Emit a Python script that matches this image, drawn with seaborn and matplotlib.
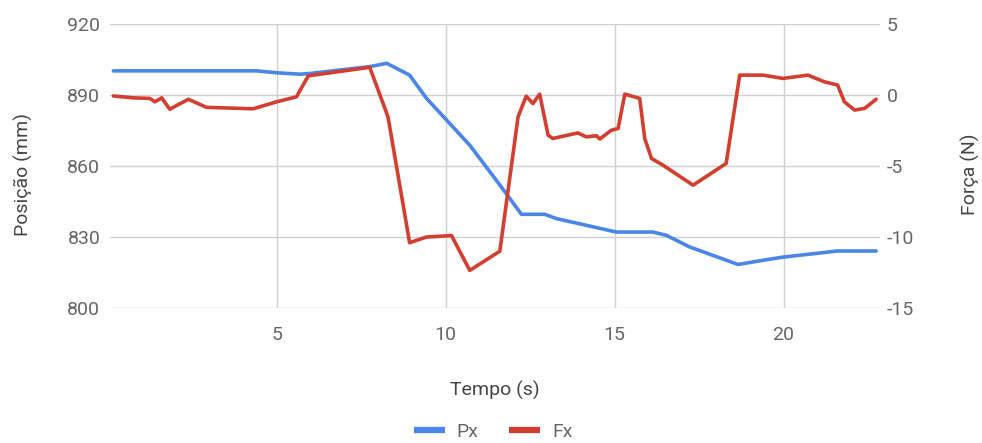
import matplotlib
matplotlib.use("Agg")
import matplotlib.pyplot as plt
import seaborn as sns
import pandas as pd
from matplotlib.lines import Line2D

# Position Px (mm) over time
t_pos = [0.16, 4.40, 4.99, 5.68, 5.98, 7.75, 8.25, 8.93, 9.43, 10.71, 11.60,
         12.24, 12.93, 13.27, 15.05, 16.13, 16.53, 17.22, 18.65, 19.49, 19.98,
         21.60, 22.74]
px = [900.2, 900.2, 899.4, 898.8, 899.1, 902.0, 903.4, 898.4, 888.6, 868.8,
      852.0, 839.6, 839.6, 837.8, 832.1, 832.1, 830.7, 825.8, 818.4, 820.4,
      821.5, 824.1, 824.1]

# Force Fx (N) over time
t_force = [0.16, 0.75, 1.24, 1.39, 1.59, 1.83, 2.38, 2.92, 4.30, 4.99, 5.58,
           5.93, 7.75, 8.29, 8.93, 9.43, 10.17, 10.71, 11.60, 12.14, 12.38,
           12.58, 12.78, 13.03, 13.17, 13.91, 14.16, 14.46, 14.56, 14.90,
           15.10, 15.30, 15.74, 15.89, 16.09, 16.43, 17.32, 18.30, 18.70,
           19.39, 19.98, 20.72, 21.21, 21.60, 21.80, 22.10, 22.40, 22.74]
fx = [-0.07, -0.20, -0.24, -0.48, -0.20, -1.00, -0.30, -0.87, -0.97, -0.48,
      -0.13, 1.35, 1.95, -1.54, -10.4, -10.0, -9.9, -12.35, -11.0, -1.54,
      -0.08, -0.60, 0.06, -2.83, -3.06, -2.67, -2.95, -2.87, -3.10, -2.48,
      -2.36, 0.06, -0.24, -3.06, -4.47, -4.94, -6.35, -4.82, 1.40, 1.40, 1.17,
      1.40, 0.93, 0.70, -0.48, -1.06, -0.94, -0.30]

x_ticks = [5, 10, 15, 20]
pos_ticks = [800, 830, 860, 890, 920]
force_ticks = [-15, -10, -5, 0, 5]

BLUE = "#4a86e8"
RED = "#d23f31"
GRID = "#d0d0d0"
TICK = "#666666"
LABEL = "#444444"
FS = 14

sns.set_theme(style="white")
plt.rcParams["font.family"] = ["Roboto", "DejaVu Sans"]
plt.rcParams["axes.unicode_minus"] = False

pos_df = pd.DataFrame({"Tempo": t_pos, "Px": px})
force_df = pd.DataFrame({"Tempo": t_force, "Fx": fx})

fig = plt.figure(figsize=(9.82, 4.43), dpi=100)
ax = fig.add_axes([0.112, 0.3047, 0.784, 0.6411])
ax2 = ax.twinx()

sns.lineplot(data=pos_df, x="Tempo", y="Px", ax=ax, color=BLUE, lw=2.6)
sns.lineplot(data=force_df, x="Tempo", y="Fx", ax=ax2, color=RED, lw=2.6)

ax.set_xlim(0.06, 22.85)
ax.set_ylim(800, 920)
ax2.set_ylim(-15, 5)
ax.set_xticks(x_ticks)
ax.set_yticks(pos_ticks)
ax2.set_yticks(force_ticks)

ax.grid(True, color=GRID, lw=1)
ax.set_axisbelow(True)
ax2.grid(False)
for a in (ax, ax2):
    for s in a.spines.values():
        s.set_visible(False)
    a.tick_params(length=0, labelsize=FS, labelcolor=TICK)
ax.tick_params(axis="y", pad=7)
ax2.tick_params(axis="y", pad=5)
ax.tick_params(axis="x", pad=13)

ax.set_xlabel("Tempo (s)", fontsize=FS, color=LABEL)
ax.xaxis.set_label_coords(0.5, -0.255)
ax.set_ylabel("Posição (mm)", fontsize=FS, color=LABEL)
ax.yaxis.set_label_coords(-0.10, 0.47)
ax2.set_ylabel("Força (N)", fontsize=FS, color=LABEL, rotation=90)
ax2.yaxis.set_label_coords(1.105, 0.47)

handles = [Line2D([], [], color=BLUE, lw=4.5, solid_capstyle="butt"),
           Line2D([], [], color=RED, lw=4.5, solid_capstyle="butt")]
fig.legend(handles, ["Px", "Fx"], loc="center", bbox_to_anchor=(0.502, 0.025),
           ncol=2, frameon=False, fontsize=FS, handlelength=1.6,
           columnspacing=1.6, labelcolor=TICK, handletextpad=0.6)

fig.savefig("out.png", dpi=100)
